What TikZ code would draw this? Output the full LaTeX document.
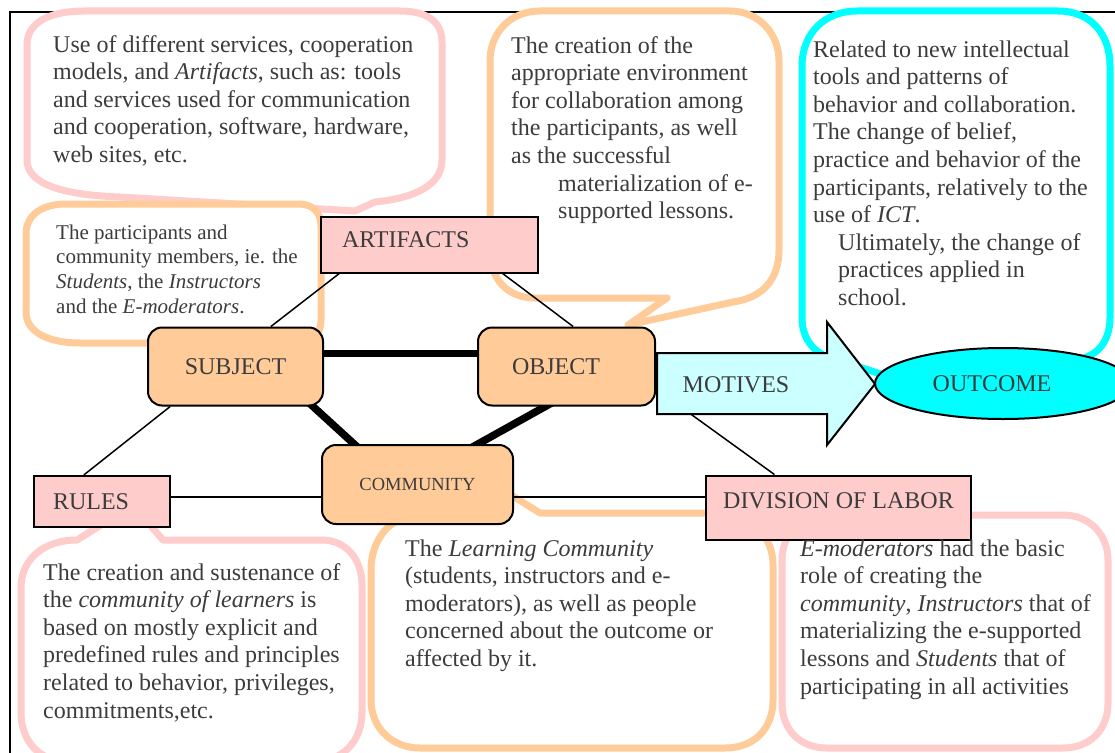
\documentclass[tikz,border=0pt]{standalone}
\usepackage{fontspec}
\setmainfont{Liberation Serif}
\usetikzlibrary{calc,shapes.geometric}
\pgfdeclarelayer{bg}
\pgfsetlayers{bg,main}
\definecolor{txt}{HTML}{3C3C3C}
\definecolor{bpink}{HTML}{FFCCCC}
\definecolor{borange}{HTML}{FFCC99}
\definecolor{bcyan}{HTML}{00FFFF}
\definecolor{lcyan}{HTML}{CCFFFF}
\begin{document}
\begin{tikzpicture}[x=1pt,y=-1pt,
  bubble/.style={line width=7pt, fill=white, line join=round},
  bigfont/.style={font=\fontsize{24}{27.6}\selectfont},
  pinkbox/.style={draw=black, line width=2pt, fill=bpink, text=txt, bigfont, inner sep=0pt},
  peachbox/.style={draw=black, line width=2pt, fill=borange, rounded corners=14pt, text=txt, bigfont, inner sep=0pt},
  btext/.style={anchor=base west, align=left, inner sep=0pt, text=txt, bigfont},
  thinline/.style={line width=1.5pt},
  thickline/.style={line width=7.5pt}]
\useasboundingbox (0,0) rectangle (1115,752);

% ---------- main nodes ----------
\node[pinkbox, minimum width=217pt, minimum height=56pt, text width=175pt, inner xsep=21pt, align=left, text depth=10pt] (artifacts) at (429.5,244.5) {ARTIFACTS};
\node[peachbox, minimum width=175pt, minimum height=78pt] (subject) at (235.5,366.5) {SUBJECT};
\node[peachbox, minimum width=177pt, minimum height=78pt, text width=109pt, inner xsep=34pt, align=left] (object) at (566.5,366.5) {OBJECT};
\node[peachbox, minimum width=191pt, minimum height=79pt, font=\fontsize{18.5}{22}\selectfont] (community) at (417.5,484.5) {COMMUNITY};
\node[pinkbox, minimum width=136pt, minimum height=51pt, text width=98pt, inner xsep=19pt, align=left] (rules) at (102,501.5) {RULES};
\node[pinkbox, minimum width=265pt, minimum height=64pt, text depth=14pt] (division) at (838.5,507.5) {DIVISION OF LABOR};

% MOTIVES arrow
\draw[line width=2pt, fill=lcyan, line join=miter] (657,353) -- (827,353) -- (827,322) -- (875,384) -- (827,445) -- (827,414) -- (657,414) -- cycle;
\node[text=txt, bigfont, inner sep=0pt] (motives) at (736,385) {MOTIVES};
\node[ellipse, draw=black, line width=2pt, fill=bcyan, minimum width=256pt, minimum height=71pt, inner sep=0pt, text=txt, bigfont] (outcome) at (1003,383.5) {\hbox{OUTCOME\kern22pt}};

% ---------- bubble texts (anchor = baseline of last line) ----------
\node[btext] (t1) at (53,162.4) {Use of different services, cooperation\\models, and \textit{Artifacts}, such as: tools\\and services used for communication\\and cooperation, software, hardware,\\web sites, etc.};
\node[btext, font=\fontsize{21}{24.7}\selectfont] (t2) at (56,313.1) {The participants and\\community members, ie. the\\\textit{Students}, the \textit{Instructors}\\and the \textit{E-moderators}.};
\node[btext] (t3) at (511,218.6) {The creation of the\\appropriate environment\\for collaboration among\\the participants, as well\\as the successful\\\hspace*{47pt}materialization of e-\\\hspace*{47pt}supported lessons.};
\node[btext] (t4) at (813,305.4) {Related to new intellectual\\tools and patterns of\\behavior and collaboration.\\The change of belief,\\practice and behavior of the\\participants, relatively to the\\use of \textit{ICT}.\\\hspace*{25pt}Ultimately, the change of\\\hspace*{25pt}practices applied in\\\hspace*{25pt}school.};
\node[btext] (t5) at (43,718) {The creation and sustenance of\\the \textit{community of learners} is\\based on mostly explicit and\\predefined rules and principles\\related to behavior, privileges,\\commitments,etc.};
\node[btext] (t6) at (405,666.4) {The \textit{Learning Community}\\(students, instructors and e-\\moderators), as well as people\\concerned about the outcome or\\affected by it.};
\node[btext] (t7) at (800,694) {\textit{E-moderators} had the basic\\role of creating the\\\textit{community}, \textit{Instructors} that of\\materializing the e-supported\\lessons and \textit{Students} that of\\participating in all activities};

\begin{pgfonlayer}{bg}
% frame
\draw[line width=2.5pt] (10,770) -- (10,12) -- (1130,12);
% bubbles
\draw[bubble, draw=bpink] (27,100) -- (27,45) .. controls (27,22) and (50,11) .. (85,11) -- (400,11) .. controls (425,11) and (442,20) .. (442,42) -- (442,160) .. controls (442,185) and (415,198) .. (375,202) -- (355,211) -- (120,197) .. controls (65,195) and (27,185) .. (27,160) -- cycle;
\draw[bubble, draw=borange] (26,280) -- (26,234) .. controls (26,215) and (42,204) .. (66,204) -- (299,204) .. controls (312,204) and (321,212) .. (321,226) -- (321,320) .. controls (321,335) and (312,343) .. (299,343) -- (80,343) .. controls (50,343) and (26,333) .. (26,312) -- cycle;
\draw[bubble, draw=borange] (490,150) -- (490,61) .. controls (490,33) and (510,11) .. (540,11) -- (730,11) .. controls (758,11) and (779,33) .. (779,61) -- (779,250) .. controls (779,280) and (762,298) .. (733,302) -- (628,325) -- (667,298) -- (535,298) .. controls (508,298) and (490,280) .. (490,250) -- cycle;
\draw[bubble, draw=bcyan] (802,200) -- (802,66) .. controls (802,33) and (825,11) .. (857,11) -- (1058,11) .. controls (1090,11) and (1110,33) .. (1110,66) -- (1110,318) .. controls (1110,343) and (1095,360) .. (1070,360) -- (985,360) -- (935,392) -- (823,355) .. controls (810,348) and (802,335) .. (802,318) -- cycle;
\draw[bubble, draw=bpink] (21,650) -- (21,588) .. controls (21,558) and (45,540) .. (77,540) -- (133,505) -- (163,540) -- (322,540) .. controls (345,540) and (362,558) .. (362,585) -- (362,712) .. controls (362,742) and (342,762) .. (312,762) -- (70,762) .. controls (40,762) and (21,742) .. (21,712) -- cycle;
\draw[bubble, draw=borange] (371,650) -- (371,570) .. controls (371,538) and (392,513) .. (426,513) -- (470,513) -- (495,485) -- (540,513) -- (720,513) .. controls (750,513) and (773,535) .. (773,565) -- (773,700) .. controls (773,728) and (755,748) .. (725,748) -- (420,748) .. controls (392,748) and (371,728) .. (371,700) -- cycle;
\draw[bubble, draw=bpink] (782,650) -- (782,560) .. controls (782,535) and (800,515) .. (827,515) -- (1063,515) .. controls (1090,515) and (1108,535) .. (1108,560) -- (1108,703) .. controls (1108,730) and (1090,748) .. (1063,748) -- (827,748) .. controls (800,748) and (782,730) .. (782,703) -- cycle;
% connectors
\coordinate (hl) at (0,497);
\draw[thinline] ($(artifacts.south west)!0.088!(artifacts.south east)$) -- ($(subject.north west)!0.70!(subject.north east)$);
\draw[thinline] ($(artifacts.south west)!0.834!(artifacts.south east)$) -- ($(object.north west)!0.537!(object.north east)$);
\draw[thickline] ($(subject.east)+(-10,-13)$) -- ($(object.west)+(10,-13)$);
\draw[thickline] ($(subject.south east)+(-23,-11)$) -- ($(community.north west)+(44,10)$);
\draw[thickline] ($(object.south west)+(88,-11)$) -- ($(community.north west)+(139,10)$);
\draw[thinline] ($(subject.south west)!0.131!(subject.south east)$) -- ($(rules.north west)!0.368!(rules.north east)$);
\draw[thinline] (rules.east |- hl) -- (community.west |- hl);
\draw[thinline] (community.east |- hl) -- (division.west |- hl);
\draw[thinline] ($(object.east)+(0,22.5)$) -- ($(division.north west)!0.26!(division.north east)$);
\end{pgfonlayer}
\end{tikzpicture}
\end{document}
